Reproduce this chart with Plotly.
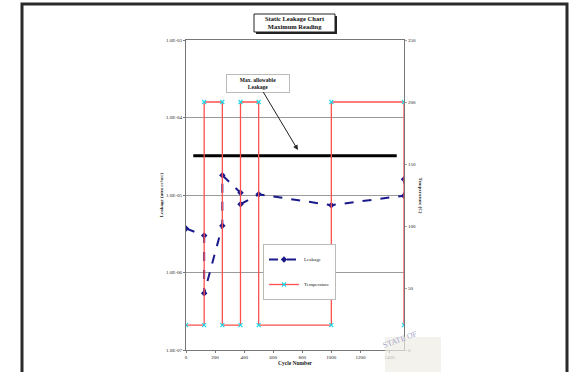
import plotly.graph_objects as go

# ---- data ----
cycle_leak = [0, 125, 125, 250, 250, 375, 375, 500, 1000, 1500, 1500]
leakage = [3.7e-6, 3.0e-6, 5.4e-7, 4.0e-6, 1.8e-5, 1.07e-5, 7.6e-6, 1.02e-5, 7.4e-6, 9.8e-6, 1.6e-5]

cycle_temp = [0, 125, 125, 250, 250, 375, 375, 500, 500, 1000, 1000, 1500, 1500]
temperature = [20, 20, 200, 200, 20, 20, 200, 200, 20, 20, 200, 200, 20]

max_cycle = [50, 1450]
max_leak = [3.2e-5, 3.2e-5]

x_ticks = [0, 200, 400, 600, 800, 1000, 1200, 1400]
y_ticks = [1e-7, 1e-6, 1e-5, 1e-4, 1e-3]
y_ticktext = ["1.0E-07", "1.0E-06", "1.0E-05", "1.0E-04", "1.0E-03"]
y2_ticks = [0, 50, 100, 150, 200, 250]

SERIF = "Liberation Serif"
W, H = 571, 372
L, R, T, B = 186, 404, 40, 350  # plot area in page pixels


def px(x):
    return (x - L) / (R - L)


def py(y):
    return (B - y) / (B - T)


fig = go.Figure()

fig.add_trace(go.Scatter(
    x=max_cycle, y=max_leak, mode="lines",
    line=dict(color="black", width=3), showlegend=False, hoverinfo="skip"))

fig.add_trace(go.Scatter(
    x=cycle_temp, y=temperature, yaxis="y2", mode="lines+markers", name="Temperature",
    line=dict(color="#ff5050", width=1.3),
    marker=dict(symbol="x-thin", size=4, color="#22d8e8", line=dict(color="#22d8e8", width=1.2)),
    legendgroup="b", legendrank=2))

fig.add_trace(go.Scatter(
    x=cycle_leak, y=leakage, mode="lines+markers", name="Leakage",
    line=dict(color="#1a1a8c", width=2, dash="dash"),
    marker=dict(symbol="diamond", size=5, color="#1a1a8c"),
    legendgroup="a", legendrank=1))

tickfont = dict(family=SERIF, size=5, color="#222")

fig.update_layout(
    width=W, height=H,
    margin=dict(l=L, r=W - R, t=T, b=H - B, autoexpand=False),
    paper_bgcolor="white", plot_bgcolor="white",
    font=dict(family=SERIF, color="#222"),
    xaxis=dict(
        range=[0, 1500], tickvals=x_ticks, tickfont=tickfont, automargin=False,
        showgrid=False, zeroline=False, showline=True, mirror=True,
        linecolor="#777", linewidth=1, ticks="outside", ticklen=2, tickcolor="#777",
        title=dict(text="<b>Cycle Number</b>", font=dict(family=SERIF, size=5.5), standoff=1),
    ),
    yaxis=dict(
        type="log", range=[-7, -3], tickvals=y_ticks, ticktext=y_ticktext, tickfont=tickfont,
        automargin=False,
        showgrid=True, gridcolor="#9a9a9a", gridwidth=1, zeroline=False,
        showline=True, linecolor="#777", linewidth=1, ticks="outside", ticklen=2, tickcolor="#777",
        title=dict(text="<b>Leakage (atm cc/sec)</b>", font=dict(family=SERIF, size=5), standoff=2),
    ),
    yaxis2=dict(
        overlaying="y", side="right", range=[0, 250], tickvals=y2_ticks, tickfont=tickfont,
        automargin=False,
        showgrid=False, zeroline=False, showline=True, linecolor="#777", linewidth=1,
        ticks="outside", ticklen=2, tickcolor="#aaa",
    ),
    legend=dict(
        x=px(263), y=py(244), xanchor="left", yanchor="top",
        bgcolor="white", bordercolor="#bbbbbb", borderwidth=1,
        font=dict(family=SERIF, size=5), tracegroupgap=6,
        itemwidth=30,
    ),
    showlegend=True,
)

# outer frame
fig.add_shape(type="rect", xref="paper", yref="paper",
              x0=px(22), x1=px(567), y0=py(385), y1=py(4),
              line=dict(color="#2a2a2a", width=3), layer="below")

# title box with shadow
fig.add_shape(type="rect", xref="paper", yref="paper",
              x0=px(256), x1=px(337), y0=py(34), y1=py(16),
              fillcolor="#222", line=dict(width=0), layer="above")
fig.add_shape(type="rect", xref="paper", yref="paper",
              x0=px(254), x1=px(335), y0=py(32), y1=py(14),
              fillcolor="white", line=dict(color="#222", width=1), layer="above")
fig.add_annotation(xref="paper", yref="paper", x=px(294.5), y=py(23),
                   yanchor="middle", text="<b>Static Leakage Chart<br>Maximum Reading</b>",
                   showarrow=False, font=dict(family=SERIF, size=6.5, color="#111"))

# Max allowable annotation with arrow
fig.add_annotation(x=770, y=-4.42, xref="x", yref="y",
                   text="<b>Max. allowable<br>Leakage</b>",
                   font=dict(family=SERIF, size=5.5, color="#111"),
                   showarrow=True, arrowhead=2, arrowsize=1, arrowwidth=1, arrowcolor="#222",
                   ax=-40, ay=-67, bgcolor="white", bordercolor="#bbbbbb", borderwidth=1,
                   borderpad=2, width=58, height=13)

# right axis title
fig.add_annotation(xref="paper", yref="paper", x=px(425), y=py(195),
                   text="<b>Temperature (C)</b>", textangle=90, showarrow=False,
                   font=dict(family=SERIF, size=5))

# faint seal watermark
fig.add_shape(type="rect", xref="paper", yref="paper",
              x0=px(385), x1=px(441), y0=py(373), y1=py(337),
              fillcolor="rgba(240,237,230,0.7)", line=dict(width=0), layer="above")
fig.add_annotation(xref="paper", yref="paper", x=px(421), y=py(352),
                   text="STATE OF", textangle=-20, showarrow=False,
                   font=dict(family=SERIF, size=8, color="rgba(130,130,190,0.75)"))

page_fix = (
    "document.documentElement.style.margin='0px';"
    "document.documentElement.style.overflow='hidden';"
    "document.documentElement.style.height='372px';"
    "document.body.style.margin='0px';"
    "document.body.style.overflow='hidden';"
    "document.body.style.height='372px';"
)

fig.write_html("out.html", config={"displayModeBar": False}, post_script=page_fix)
